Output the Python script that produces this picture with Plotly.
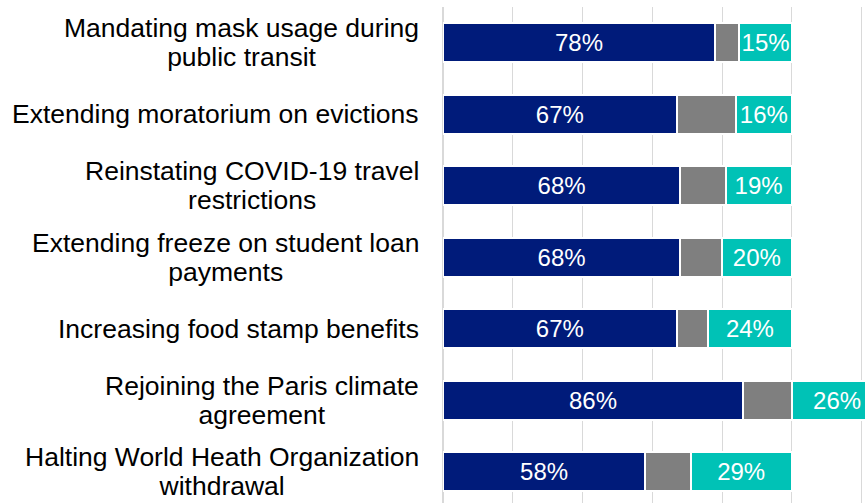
import plotly.graph_objects as go

# Policy items, top to bottom
categories = [
    "Mandating mask usage during<br>public transit",
    "Extending moratorium on evictions",
    "Reinstating COVID-19 travel<br>restrictions",
    "Extending freeze on student loan<br>payments",
    "Increasing food stamp benefits",
    "Rejoining the Paris climate<br>agreement",
    "Halting World Heath Organization<br>withdrawal",
]

# Shares of respondents (%)
support = [78, 67, 68, 68, 67, 86, 58]
unsure = [7, 17, 13, 12, 9, 14, 13]
oppose = [15, 16, 19, 20, 24, 26, 29]

NAVY = "#001b7a"
GRAY = "#7f7f7f"
TEAL = "#00c2b6"
FONT = "Arial, Liberation Sans, sans-serif"

fig = go.Figure()

def add_segment(name, values, color, labelled):
    fig.add_trace(go.Bar(
        name=name,
        y=categories,
        x=values,
        orientation="h",
        marker=dict(color=color, line=dict(color="white", width=2)),
        texttemplate="%{x}%" if labelled else None,
        textposition="inside" if labelled else "none",
        insidetextanchor="middle",
        textangle=0,
        textfont=dict(family=FONT, size=24, color="white"),
        hoverinfo="skip",
    ))

add_segment("Support", support, NAVY, True)
add_segment("Don't know / No opinion", unsure, GRAY, False)
add_segment("Oppose", oppose, TEAL, True)

# Category labels: right-aligned block, lines centred on each other
for cat in categories:
    fig.add_annotation(
        xref="paper", x=0, xanchor="right", xshift=-22,
        yref="y", y=cat, yanchor="middle",
        text='<span style="font-size:26.5px">' + cat + "</span>",
        align="center",
        showarrow=False,
        font=dict(family=FONT, size=22.3, color="black"),
    )

fig.update_layout(
    width=865,
    height=503,
    margin=dict(l=443, r=0, t=7, b=0),
    barmode="stack",
    bargap=0.45,
    showlegend=False,
    plot_bgcolor="white",
    paper_bgcolor="white",
    uniformtext=dict(mode="show", minsize=24),
)

# Wide enough that every stacked segment label stays in view
fig.update_xaxes(
    range=[0, 121],
    dtick=20,
    showticklabels=False,
    showgrid=True,
    gridcolor="#d9d9d9",
    gridwidth=1,
    zeroline=True,
    zerolinecolor="#d9d9d9",
    zerolinewidth=1.5,
    showline=False,
)

fig.update_yaxes(
    type="category",
    categoryorder="array",
    categoryarray=categories,
    range=[6.437, -0.5],
    showticklabels=False,
    showgrid=False,
    zeroline=False,
    showline=False,
)

fig.write_html("out.html")
